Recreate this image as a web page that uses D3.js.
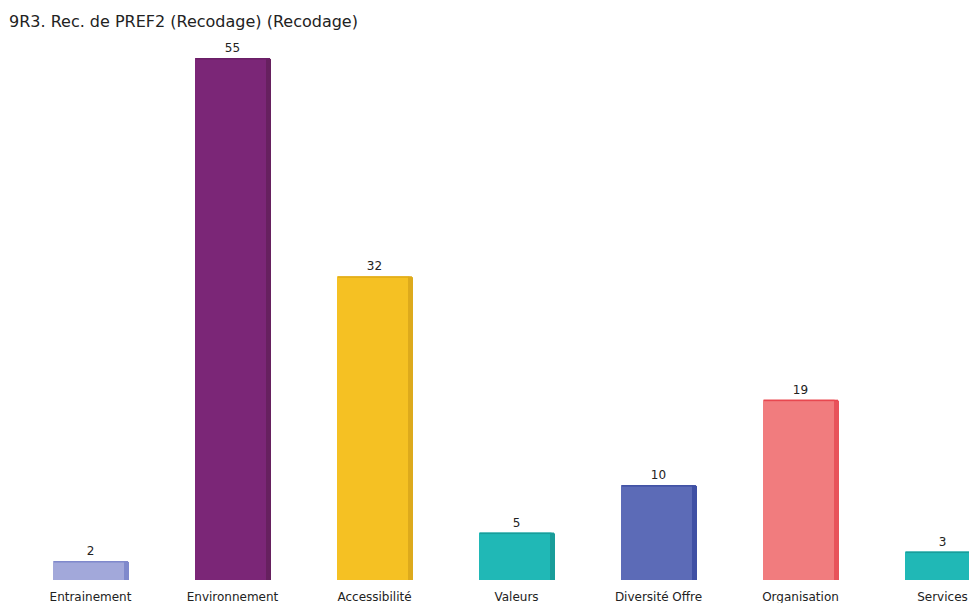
<!DOCTYPE html>
<html><head><meta charset="utf-8">
<script src="https://cdn.jsdelivr.net/npm/d3@7"></script>
<style>body{margin:0;background:#fff;}svg{display:block;font-family:"DejaVu Sans",sans-serif;}</style>
</head><body>
<svg id="c" width="969" height="603"></svg>
<script>
const title = "9R3. Rec. de PREF2 (Recodage) (Recodage)";
const categories = ["Entrainement","Environnement","Accessibilité","Valeurs","Diversité Offre","Organisation","Services"];
const values = [2,55,32,5,10,19,3];
const fills = ["#a2a8da","#7b2677","#f5c123","#20b8b6","#5c6bb7","#f17c7e","#20b8b6"];
const sides = ["#7f89cc","#66205f","#ddaa1c","#199d9a","#3f50a4","#e8525a","#199d9a"];
const tops  = ["#7f89cc","#6a1f66","#e0ac1a","#199d9a","#3f50a4","#e8474f","#199d9a"];

const svg = d3.select("#c");
const base = 580;
const x = d3.scaleBand().domain(categories).range([17.5, 1011.5]).paddingInner(0.5).paddingOuter(0.25);
const y = d3.scaleLinear().domain([0,55]).range([base, 58]);
const d = 5;

svg.append("text").attr("x",9).attr("y",27).attr("font-size",16).attr("fill","#222").text(title);

const g = svg.selectAll("g.bar").data(categories).join("g").attr("class","bar");
g.each(function(c,i){
  const sel = d3.select(this);
  const x0 = x(c), w = x.bandwidth(), yt = y(values[i]);
  sel.append("path").attr("d",`M${x0+w},${yt} L${x0+w+d},${yt+1} L${x0+w+d},${base} L${x0+w},${base} Z`).attr("fill",sides[i]);
  sel.append("rect").attr("x",x0).attr("y",yt).attr("width",w).attr("height",base-yt).attr("fill",fills[i]);
  sel.append("rect").attr("x",x0+1).attr("y",yt).attr("width",w+d-2).attr("height",1.5).attr("fill",tops[i]);
  sel.append("text").attr("x",x0+w/2+2).attr("y",yt-6).attr("text-anchor","middle").attr("font-size",12).attr("fill","#222").text(values[i]);
  sel.append("text").attr("x",x0+w/2+2).attr("y",601).attr("text-anchor","middle").attr("font-size",12).attr("fill","#222").text(c);
});
</script>
</body></html>
